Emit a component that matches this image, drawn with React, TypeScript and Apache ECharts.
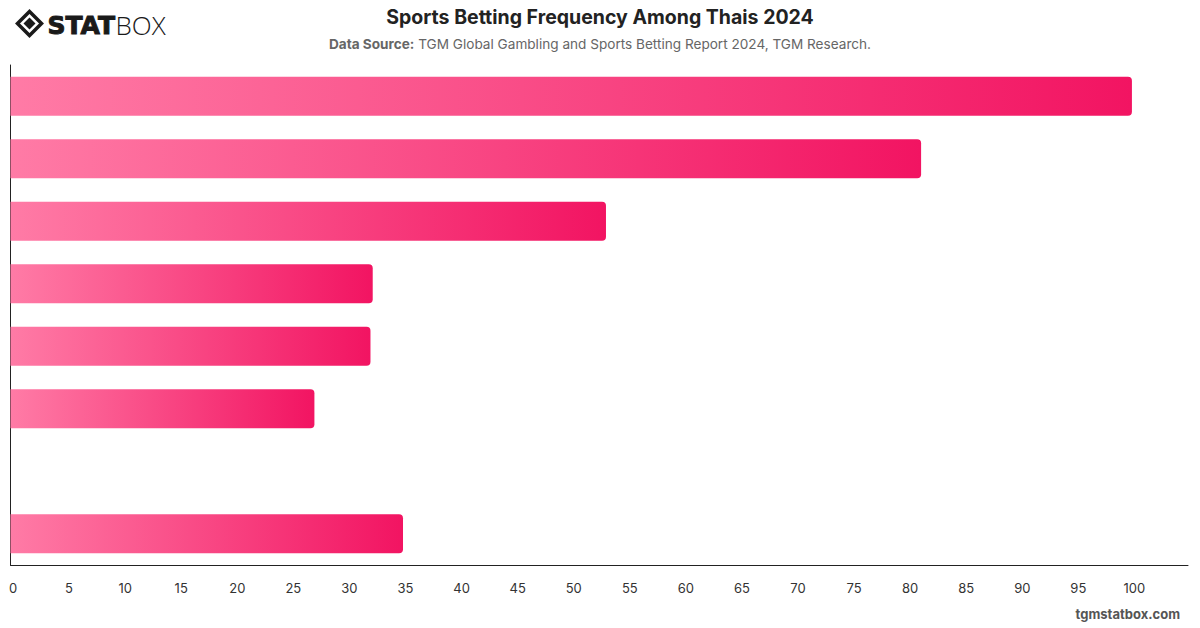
import React, { useEffect, useRef } from "react";
import * as echarts from "echarts";

const categories = ["Daily", "Several times a week", "Once a week", "Several times a month", "Once a month", "Less often", "", "Never"];
const values: (number | null)[] = [100, 81.2, 53.1, 32.3, 32.1, 27.1, null, 35];
const xTicks = { min: 0, max: 105, interval: 5 };

const title = "Sports Betting Frequency Among Thais 2024";
const sourceLabel = "Data Source:";
const sourceText = " TGM Global Gambling and Sports Betting Report 2024, TGM Research.";

export default function App() {
  const ref = useRef<HTMLDivElement>(null);
  useEffect(() => {
    if (!ref.current) return;
    const chart = echarts.init(ref.current, null, { renderer: "svg" });
    const font = "Inter, 'Noto Sans', sans-serif";
    chart.setOption({
      animation: false,
      backgroundColor: "#ffffff",
      textStyle: { fontFamily: font },
      title: [
        {
          text: title,
          left: "center",
          top: 2,
          textStyle: { fontSize: 19.5, fontWeight: "bold", color: "#222", fontFamily: font },
        },
        {
          text: "{b|" + sourceLabel + "}{n|" + sourceText + "}",
          left: "center",
          top: 32,
          textStyle: {
            fontFamily: font,
            fontWeight: "normal",
            rich: {
              b: { fontSize: 13.6, fontWeight: "bold", color: "#666", fontFamily: font },
              n: { fontSize: 13.6, fontWeight: "normal", color: "#666", fontFamily: font },
            },
          },
        },
      ],
      grid: { left: 10.5, right: 12, top: 65, bottom: 63, containLabel: false },
      xAxis: {
        type: "value",
        min: xTicks.min,
        max: xTicks.max,
        interval: xTicks.interval,
        axisLine: { show: true, lineStyle: { color: "#222", width: 1 } },
        axisTick: { show: false },
        splitLine: { show: false },
        axisLabel: {
          color: "#333",
          fontSize: 13,
          margin: 16,
          padding: [0, 0, 0, 5],
          fontFamily: font,
          showMaxLabel: false,
          formatter: (v: number) => (v > 100 ? "" : String(v)),
        },
      },
      yAxis: {
        type: "category",
        inverse: true,
        data: categories,
        axisLine: { show: true, lineStyle: { color: "#222", width: 1 } },
        axisTick: { show: false },
        axisLabel: { show: false },
        splitLine: { show: false },
      },
      series: [
        {
          type: "bar",
          data: values,
          barWidth: 39,
          itemStyle: {
            borderRadius: [0, 4, 4, 0],
            color: new echarts.graphic.LinearGradient(0, 0, 1, 0, [
              { offset: 0, color: "#FF7BA6" },
              { offset: 1, color: "#F21462" },
            ]),
          },
        },
      ],
      graphic: [
        {
          type: "group",
          left: 15,
          top: 9,
          children: [
            {
              type: "polygon",
              shape: { points: [[13, 1], [25, 13], [13, 25], [1, 13]] },
              style: { fill: "none", stroke: "#1a1a1a", lineWidth: 3.5 },
            },
            {
              type: "polygon",
              shape: { points: [[13, 7], [19, 13], [13, 19], [7, 13]] },
              style: { fill: "#1a1a1a" },
            },
            {
              type: "text",
              x: 31,
              y: 2,
              style: {
                text: "STAT",
                fontSize: 25,
                fontWeight: 900,
                fill: "#1a1a1a",
                stroke: "#1a1a1a",
                lineWidth: 1,
                fontFamily: "'DejaVu Sans', sans-serif",
              },
            },
            {
              type: "text",
              x: 99,
              y: 1,
              style: {
                text: "BOX",
                fontSize: 26,
                fontWeight: 300,
                fill: "#1a1a1a",
                fontFamily: "'Open Sans', sans-serif",
              },
            },
          ],
        },
        {
          type: "text",
          right: 20,
          top: 607,
          style: {
            text: "tgmstatbox.com",
            fontSize: 13,
            fontWeight: "bold",
            fill: "#555",
            fontFamily: font,
          },
        },
      ],
    });
    return () => chart.dispose();
  }, []);
  return <div ref={ref} style={{ width: 1200, height: 628, position: "absolute", left: 0, top: 0 }} />;
}
